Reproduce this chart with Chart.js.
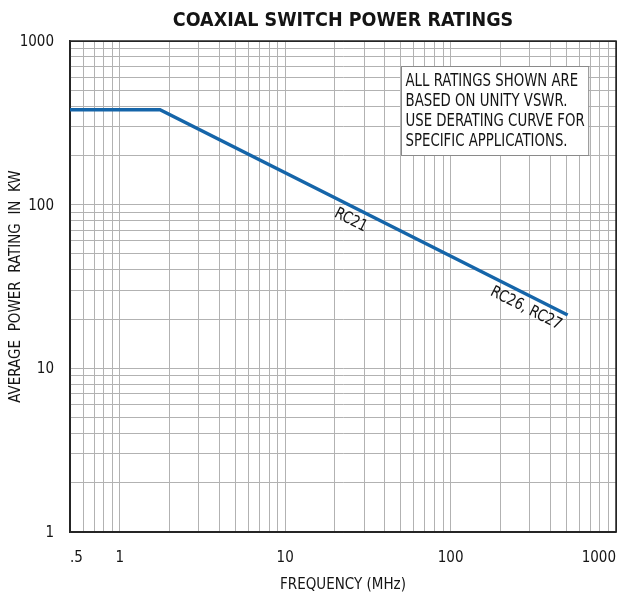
<!DOCTYPE html>
<html>
<head>
<meta charset="utf-8">
<script src="https://cdn.jsdelivr.net/npm/chart.js@4.4.1/dist/chart.umd.min.js"></script>
<style>
  html, body { margin: 0; padding: 0; background: #ffffff; }
  canvas { display: block; }
</style>
</head>
<body>
<canvas id="chart" width="617" height="596"></canvas>
<script>
// Power rating curve (frequency in MHz, average power in kW)
const frequencyMHz = [0.5, 1.75, 510];
const powerKW = [380, 380, 21.2];

// Log grid lines and the labelled decades
const xGridValues = [0.5, 0.6, 0.7, 0.8, 0.9,
  1, 2, 3, 4, 5, 6, 7, 8, 9,
  10, 20, 30, 40, 50, 60, 70, 80, 90,
  100, 200, 300, 400, 500, 600, 700, 800, 900, 1000];
const xTickLabels = { 0.5: '.5', 1: '1', 10: '10', 100: '100', 1000: '1000' };
const yGridValues = [1, 2, 3, 4, 5, 6, 7, 8, 9,
  10, 20, 30, 40, 50, 60, 70, 80, 90,
  100, 200, 300, 400, 500, 600, 700, 800, 900, 1000];
const yTickLabels = { 1: '1', 10: '10', 100: '100', 1000: '1000' };

// Text on the chart
const chartTitle = 'COAXIAL SWITCH POWER RATINGS';
const xTitle = 'FREQUENCY (MHz)';
const yTitle = 'AVERAGE  POWER  RATING  IN  KW';
const curveNames = ['RC21', 'RC26, RC27'];
const noteLines = ['ALL RATINGS SHOWN ARE', 'BASED ON UNITY VSWR.',
  'USE DERATING CURVE FOR', 'SPECIFIC APPLICATIONS.'];

const FONT = "'DejaVu Sans Condensed', 'Liberation Sans Narrow', 'Arial Narrow', sans-serif";
const INK = '#141414';
const GRID = '#b2b2b2';
const FRAME = '#262626';
const CURVE = '#1565a9';

// Where the curve names sit (frequency along the curve) and the note's corner
const curveNameAnchors = [27, 310];
const noteCorner = { freq: 50, power: 700 };

const edgeOrGrid = (value, lo, hi) => (value === lo || value === hi) ? FRAME : GRID;

// Frame around the plot plus the boxed note
const framePlugin = {
  id: 'frame',
  beforeDatasetsDraw(chart) {
    const { ctx, chartArea: a, scales } = chart;
    ctx.save();
    ctx.strokeStyle = FRAME;
    ctx.lineWidth = 1.5;
    ctx.strokeRect(a.left, a.top, a.right - a.left, a.bottom - a.top);

    // note box, set in a condensed face
    const squeeze = 0.87;
    ctx.font = `17px ${FONT}`;
    const lineGap = 20;
    const pad = 4;
    const w = Math.max(...noteLines.map(t => ctx.measureText(t).width)) * squeeze + pad * 2;
    const h = noteLines.length * lineGap + 9;
    const x0 = Math.round(scales.x.getPixelForValue(noteCorner.freq)) + 0.5;
    const y0 = Math.round(scales.y.getPixelForValue(noteCorner.power)) + 0.5;
    ctx.fillStyle = '#ffffff';
    ctx.fillRect(x0, y0, w, h);
    ctx.strokeStyle = '#8a8a8a';
    ctx.lineWidth = 1;
    ctx.strokeRect(x0, y0, w, h);
    ctx.fillStyle = INK;
    ctx.textAlign = 'left';
    ctx.textBaseline = 'middle';
    noteLines.forEach((t, i) => {
      ctx.save();
      ctx.translate(x0 + pad, y0 + 4 + lineGap * (i + 0.5) + 1.5);
      ctx.scale(squeeze, 1);
      ctx.fillText(t, 0, 0);
      ctx.restore();
    });
    ctx.restore();
  }
};

// Curve names written along the line, just beneath it
const curveNamePlugin = {
  id: 'curveNames',
  afterDatasetsDraw(chart) {
    const { ctx, scales } = chart;
    const pts = chart.getDatasetMeta(0).data;
    ctx.save();
    ctx.font = `16px ${FONT}`;
    ctx.fillStyle = INK;
    ctx.textAlign = 'center';
    ctx.textBaseline = 'middle';
    curveNames.forEach((name, k) => {
      const px = scales.x.getPixelForValue(curveNameAnchors[k]);
      let i = 0;
      while (i < pts.length - 2 && pts[i + 1].x < px) i++;
      const p1 = pts[i], p2 = pts[i + 1];
      const t = (px - p1.x) / (p2.x - p1.x);
      const py = p1.y + t * (p2.y - p1.y);
      const ang = Math.atan2(p2.y - p1.y, p2.x - p1.x);
      ctx.save();
      ctx.translate(px, py);
      ctx.rotate(ang);
      ctx.scale(0.92, 1);
      ctx.fillText(name, 0, 13);
      ctx.restore();
    });
    ctx.restore();
  }
};

new Chart(document.getElementById('chart').getContext('2d'), {
  type: 'scatter',
  data: {
    datasets: [{
      data: frequencyMHz.map((f, i) => ({ x: f, y: powerKW[i] })),
      showLine: true,
      borderColor: CURVE,
      borderWidth: 3.4,
      pointRadius: 0,
      fill: false,
      tension: 0
    }]
  },
  options: {
    responsive: false,
    animation: false,
    devicePixelRatio: 1,
    layout: { padding: { left: 0, right: 1, top: 0, bottom: 0 } },
    plugins: {
      legend: { display: false },
      tooltip: { enabled: false },
      title: {
        display: true,
        text: chartTitle,
        fullSize: false,
        color: INK,
        font: { family: FONT, size: 19.5, weight: 'bold' },
        padding: { top: 9, bottom: 8.6 }
      }
    },
    scales: {
      x: {
        type: 'logarithmic',
        position: 'bottom',
        min: 0.5,
        max: 1000,
        afterBuildTicks: s => { s.ticks = xGridValues.map(v => ({ value: v })); },
        afterFit: s => { s.height = 64; s.paddingLeft = 0; s.paddingRight = 0; },
        ticks: {
          autoSkip: false, maxRotation: 0, minRotation: 0,
          align: 'inner', padding: 17, color: INK,
          font: { family: FONT, size: 15 },
          callback: v => xTickLabels[v] ?? ''
        },
        grid: {
          drawTicks: false,
          color: c => edgeOrGrid(c.tick && c.tick.value, 0.5, 1000),
          lineWidth: 1
        },
        border: { display: true, color: FRAME, width: 1.5 },
        title: {
          display: true, text: xTitle, color: INK,
          font: { family: FONT, size: 15 },
          padding: { top: 0, bottom: 1.5 }
        }
      },
      y: {
        type: 'logarithmic',
        position: 'left',
        min: 1,
        max: 1000,
        afterBuildTicks: s => { s.ticks = yGridValues.map(v => ({ value: v })); },
        afterFit: s => { s.width = 70; s.paddingTop = 0; s.paddingBottom = 0; },
        ticks: {
          autoSkip: false, padding: 16, color: INK, labelOffset: 1,
          font: { family: FONT, size: 15 },
          callback: v => yTickLabels[v] ?? ''
        },
        grid: {
          drawTicks: false,
          color: c => edgeOrGrid(c.tick && c.tick.value, 1, 1000),
          lineWidth: 1
        },
        border: { display: true, color: FRAME, width: 1.5 },
        title: {
          display: true, text: yTitle, color: INK,
          font: { family: FONT, size: 15 },
          padding: { top: 7.5, bottom: 0 }
        }
      }
    }
  },
  plugins: [framePlugin, curveNamePlugin]
});
</script>
</body>
</html>
